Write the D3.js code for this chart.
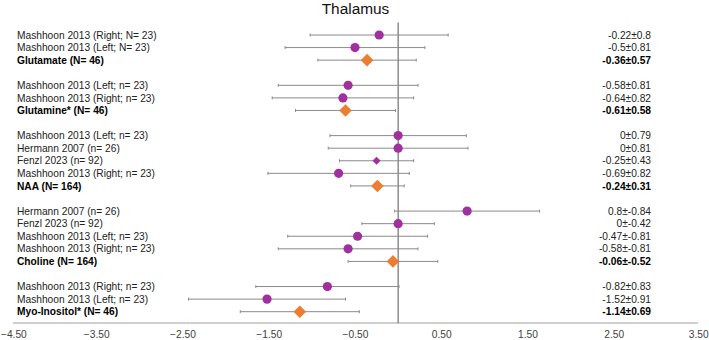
<!DOCTYPE html>
<html>
<head>
<meta charset="utf-8">
<script src="https://cdn.jsdelivr.net/npm/d3@7"></script>
<style>
  html, body { margin: 0; padding: 0; background: #fff; }
  svg { display: block; font-family: "Liberation Sans", Arial, sans-serif; }
</style>
</head>
<body>
<svg id="chart" width="709" height="340"></svg>
<script>
// ---- data (null = blank spacer row) ----
const title = "Thalamus";
const rowLabels = [
  "Mashhoon 2013 (Right; N= 23)", "Mashhoon 2013 (Left; N= 23)", "Glutamate (N= 46)", null,
  "Mashhoon 2013 (Left; n= 23)", "Mashhoon 2013 (Right; n= 23)", "Glutamine* (N= 46)", null,
  "Mashhoon 2013 (Left; n= 23)", "Hermann 2007 (n= 26)", "Fenzl 2023 (n= 92)", "Mashhoon 2013 (Right; n= 23)", "NAA (N= 164)", null,
  "Hermann 2007 (n= 26)", "Fenzl 2023 (n= 92)", "Mashhoon 2013 (Left; n= 23)", "Mashhoon 2013 (Right; n= 23)", "Choline (N= 164)", null,
  "Mashhoon 2013 (Right; n= 23)", "Mashhoon 2013 (Left; n= 23)", "Myo-Inositol* (N= 46)"
];
const means = [
  -0.22, -0.5, -0.36, null,
  -0.58, -0.64, -0.61, null,
  0, 0, -0.25, -0.69, -0.24, null,
  0.8, 0, -0.47, -0.58, -0.06, null,
  -0.82, -1.52, -1.14
];
const sds = [
  0.8, 0.81, 0.57, null,
  0.81, 0.82, 0.58, null,
  0.79, 0.81, 0.43, 0.82, 0.31, null,
  -0.84, -0.42, -0.81, -0.81, -0.52, null,
  0.83, 0.91, 0.69
];
// marker kind: "study" circle, "small" small diamond, "summary" pooled diamond
const kinds = [
  "study", "study", "summary", null,
  "study", "study", "summary", null,
  "study", "study", "small", "study", "summary", null,
  "study", "study", "study", "study", "summary", null,
  "study", "study", "summary"
];
const xTicks = [-4.5, -3.5, -2.5, -1.5, -0.5, 0.5, 1.5, 2.5, 3.5];

// ---- layout ----
const W = 709;
const svg = d3.select("#chart");
const x = d3.scaleLinear().domain([-4.5, 3.5]).range([10, 700]);
const y = d3.scalePoint().domain(d3.range(rowLabels.length)).range([35, 311.7]);
const axisY = 323;
const purple = "#A0309F", orange = "#ED7D31", barColor = "#8a8a8a";
const fontSize = 10.2;

const rows = rowLabels.map((label, i) => ({
  i, label, mean: means[i], sd: sds[i], kind: kinds[i]
})).filter(d => d.label !== null);

// title
svg.append("text")
  .attr("x", 355.5).attr("y", 13.5)
  .attr("text-anchor", "middle")
  .attr("font-size", 15.4)
  .attr("fill", "#111")
  .text(title);

// x axis (line + tick labels)
const axis = d3.axisBottom(x).tickValues(xTicks).tickFormat(d3.format(".2f")).tickSize(0).tickPadding(0);
const gAxis = svg.append("g").attr("transform", `translate(0,${axisY})`).call(axis);
gAxis.select(".domain").attr("d", `M13,0H698`).attr("stroke", "#bfbfbf").attr("stroke-width", 1.5);
gAxis.selectAll(".tick text")
  .attr("y", 15)
  .attr("dy", 0)
  .attr("font-size", fontSize)
  .attr("font-family", "'Liberation Sans', Arial, sans-serif")
  .attr("fill", "#404040");
// keep the outermost labels inside the picture
gAxis.selectAll(".tick text").each(function(d) {
  const bb = this.getBBox();
  const tx = x(d);
  const left = tx + bb.x, right = tx + bb.x + bb.width;
  if (left < 0.5) d3.select(this).attr("x", 0.5 - left);
  else if (right > W - 0.5) d3.select(this).attr("x", (W - 0.5) - right);
});

// zero line
svg.append("line")
  .attr("x1", x(0)).attr("x2", x(0))
  .attr("y1", 22.5).attr("y2", axisY)
  .attr("stroke", "#555").attr("stroke-width", 1);

// error bars
const gBars = svg.append("g");
rows.forEach(d => {
  const lo = x(d.mean - Math.abs(d.sd)), hi = x(d.mean + Math.abs(d.sd)), yy = y(d.i);
  gBars.append("line").attr("x1", lo).attr("x2", hi).attr("y1", yy).attr("y2", yy)
    .attr("stroke", barColor).attr("stroke-width", 1);
  [lo, hi].forEach(xx => gBars.append("line")
    .attr("x1", xx).attr("x2", xx).attr("y1", yy - 1.5).attr("y2", yy + 1.5)
    .attr("stroke", barColor).attr("stroke-width", 1));
});

// markers
const gMarks = svg.append("g");
rows.forEach(d => {
  const cx = x(d.mean), cy = y(d.i);
  if (d.kind === "study") {
    gMarks.append("circle").attr("cx", cx).attr("cy", cy).attr("r", 4.6).attr("fill", purple);
  } else {
    const h = d.kind === "summary" ? 6.3 : 4;
    gMarks.append("path")
      .attr("d", `M${cx},${cy - h}L${cx + h},${cy}L${cx},${cy + h}L${cx - h},${cy}Z`)
      .attr("fill", d.kind === "summary" ? orange : purple);
  }
});

// left labels
svg.append("g").selectAll("text").data(rows).join("text")
  .attr("x", 17).attr("y", d => y(d.i)).attr("dy", "0.36em")
  .attr("font-size", fontSize)
  .attr("font-weight", d => d.kind === "summary" ? "bold" : "normal")
  .attr("fill", d => d.kind === "summary" ? "#000" : "#222")
  .text(d => d.label);

// right value labels
svg.append("g").selectAll("text").data(rows).join("text")
  .attr("x", 651).attr("y", d => y(d.i)).attr("dy", "0.36em")
  .attr("text-anchor", "end")
  .attr("font-size", fontSize)
  .attr("font-weight", d => d.kind === "summary" ? "bold" : "normal")
  .attr("fill", d => d.kind === "summary" ? "#000" : "#222")
  .text(d => `${d.mean}±${d.sd}`);
</script>
</body>
</html>
